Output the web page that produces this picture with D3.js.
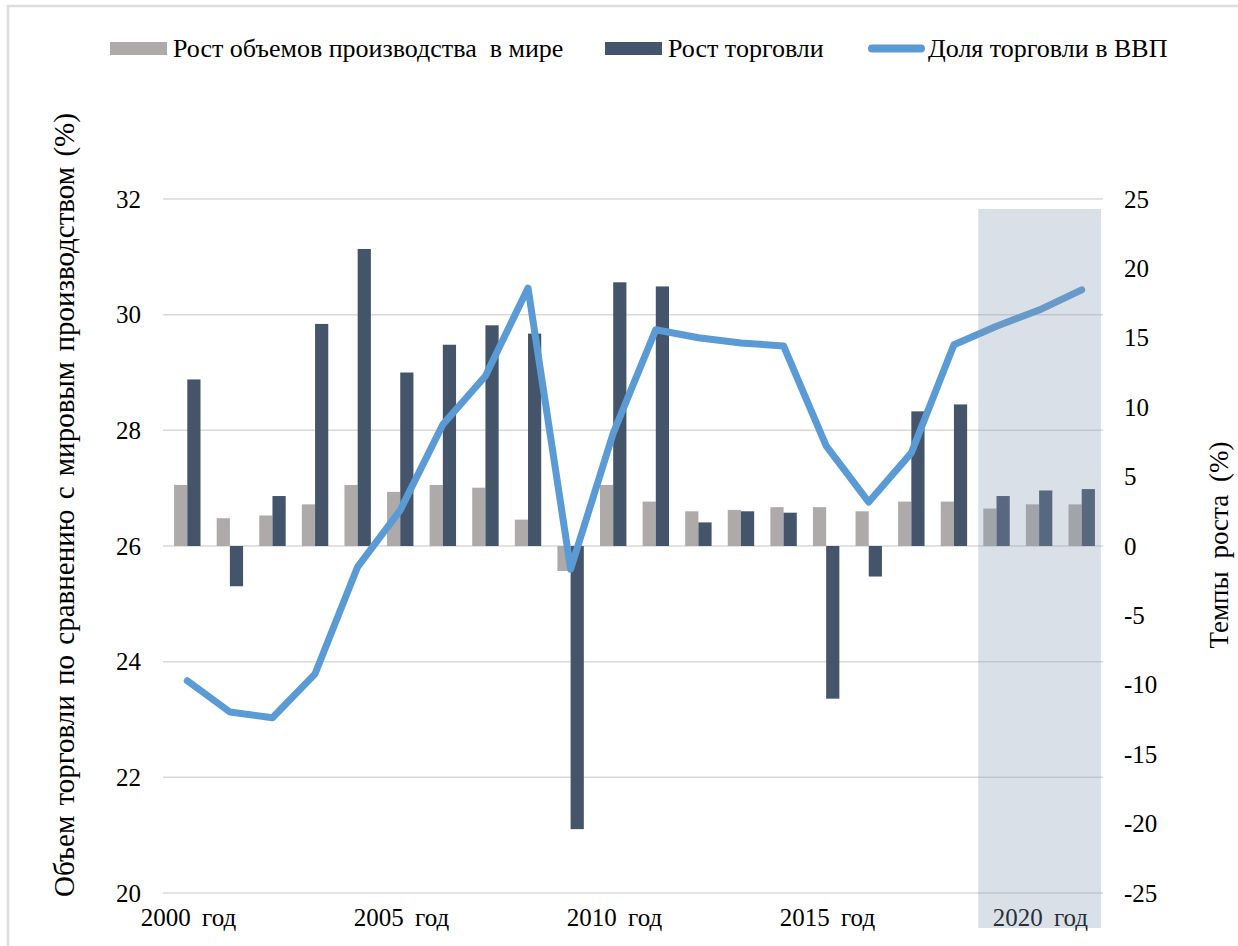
<!DOCTYPE html>
<html>
<head>
<meta charset="utf-8">
<script src="https://cdn.jsdelivr.net/npm/d3@7"></script>
<style>
  body { margin: 0; background: #fff; }
  svg text { font-family: "Liberation Serif", "Times New Roman", Tinos, "DejaVu Serif", "Noto Serif", serif; fill: #000; }
</style>
</head>
<body>
<svg id="chart" width="1238" height="946"></svg>
<script>
// годы
var years = ["2000","2001","2002","2003","2004","2005","2006","2007","2008","2009","2010",
             "2011","2012","2013","2014","2015","2016","2017","2018","2019","2020","2021"];
// рост объемов производства в мире, %
var prodGrowth = [4.4, 2.0, 2.2, 3.0, 4.4, 3.9, 4.4, 4.2, 1.9, -1.8, 4.4,
                  3.2, 2.5, 2.6, 2.8, 2.8, 2.5, 3.2, 3.2, 2.7, 3.0, 3.0];
// рост торговли, %
var tradeGrowth = [12.0, -2.9, 3.6, 16.0, 21.4, 12.5, 14.5, 15.9, 15.3, -20.4, 19.0,
                   18.7, 1.7, 2.5, 2.4, -11.0, -2.2, 9.7, 10.2, 3.6, 4.0, 4.1];
// доля торговли в ВВП, %
var tradeShare = [23.67, 23.13, 23.03, 23.79, 25.64, 26.62, 28.10, 28.94, 30.46, 25.60, 27.95,
                  29.74, 29.60, 29.51, 29.46, 27.73, 26.76, 27.61, 29.48, 29.80, 30.08, 30.43];
var leftTicks = [20, 22, 24, 26, 28, 30, 32];
var rightTicks = [-25, -20, -15, -10, -5, 0, 5, 10, 15, 20, 25];
var xLabels = ["2000", "2005", "2010", "2015", "2020"];
var shadeYears = ["2019", "2020", "2021"];

var serif = '"Liberation Serif", "Times New Roman", Tinos, "DejaVu Serif", "Noto Serif", serif';
var svg = d3.select("#chart");
var m = {l: 166, r: 1103, t: 199, b: 893};

// рамка
svg.append("path").attr("d", "M8,946 V6 H1238")
   .attr("fill", "none").attr("stroke", "#dedede").attr("stroke-width", 2.5);

var x = d3.scaleBand().domain(years).range([m.l, m.r]).paddingInner(0.38).paddingOuter(0.19);
var xs = d3.scaleBand().domain(["p", "t"]).range([0, x.bandwidth()]);
var yL = d3.scaleLinear().domain([20, 32]).range([m.b, m.t]);
var yR = d3.scaleLinear().domain([-25, 25]).range([m.b, m.t]);

// сетка
svg.append("g").selectAll("line").data(leftTicks).enter().append("line")
   .attr("x1", 163).attr("x2", 1103)
   .attr("y1", function(d) { return yL(d) }).attr("y2", function(d) { return yL(d) })
   .attr("stroke", "#d9d9d9").attr("stroke-width", 1.5);

// оси
var axL = svg.append("g").attr("transform", "translate(" + 141 + ",0)")
   .call(d3.axisLeft(yL).tickValues(leftTicks).tickSize(0).tickPadding(0));
var axR = svg.append("g").attr("transform", "translate(" + 1124 + ",0)")
   .call(d3.axisRight(yR).tickValues(rightTicks).tickSize(0).tickPadding(0)
   .tickFormat(function(d) { return String(d) }));
var axX = svg.append("g").attr("transform", "translate(0," + 918 + ")")
   .call(d3.axisBottom(x).tickValues(xLabels).tickSize(0).tickPadding(0)
   .tickFormat(function(d) { return d + " год" }));
[axL, axR, axX].forEach(function(a) {
    a.attr("font-family", null);
    a.select(".domain").remove();
    a.selectAll("text").style("font-size", "25px").style("font-family", serif);
});
axX.selectAll("text").attr("dy", "0.3em").attr("dx", "0.05em").style("word-spacing", "5px");

// столбцы
function bars(vals, key, color) {
    svg.append("g").selectAll("rect").data(vals).enter().append("rect")
       .attr("x", function(d, i) { return x(years[i]) + xs(key) })
       .attr("width", xs.bandwidth())
       .attr("y", function(d) { return yR(Math.max(0, d)) })
       .attr("height", function(d) { return Math.abs(yR(d) - yR(0)) })
       .attr("fill", color);
}
bars(prodGrowth, "p", "#aeaaaa");
bars(tradeGrowth, "t", "#44546a");

// линия
var line = d3.line()
   .x(function(d, i) { return x(years[i]) + x.bandwidth() / 2 })
   .y(function(d) { return yL(d) });
svg.append("path").datum(tradeShare).attr("d", line)
   .attr("fill", "none").attr("stroke", "#5b9bd5").attr("stroke-width", 7)
   .attr("stroke-linejoin", "round").attr("stroke-linecap", "round");

// прогнозная область
var step = x.step();
var sx0 = x(shadeYears[0]) - step * 0.19 + 3;
var sx1 = x(shadeYears[shadeYears.length - 1]) + x.bandwidth() + step * 0.19 - 2;
svg.append("rect").attr("x", sx0).attr("y", 209).attr("width", sx1 - sx0).attr("height", 719)
   .attr("fill", "#8497b0").attr("opacity", 0.3);

// подписи осей
svg.append("text").attr("transform", "translate(74,505) rotate(-90)")
   .attr("text-anchor", "middle").style("font-size", "29px").style("font-family", serif)
   .style("word-spacing", "3px")
   .text("Объем торговли по сравнению с мировым производством (%)");
svg.append("text").attr("transform", "translate(1228,545) rotate(-90)")
   .attr("text-anchor", "middle").style("font-size", "27px").style("font-family", serif)
   .style("word-spacing", "6px")
   .text("Темпы роста (%)");

// легенда
var legend = [
    {name: "Рост объемов производства  в мире", color: "#aeaaaa", type: "rect", x: 110, tx: 173},
    {name: "Рост торговли", color: "#44546a", type: "rect", x: 605, tx: 668},
    {name: "Доля торговли в ВВП", color: "#5b9bd5", type: "line", x: 868, tx: 928}
];
var lg = svg.append("g");
legend.forEach(function(d) {
    if (d.type == "rect") {
        lg.append("rect").attr("x", d.x).attr("y", 42).attr("width", 57).attr("height", 13).attr("fill", d.color);
    } else {
        lg.append("line").attr("x1", d.x + 4).attr("x2", d.x + 53).attr("y1", 48.5).attr("y2", 48.5)
          .attr("stroke", d.color).attr("stroke-width", 8).attr("stroke-linecap", "round");
    }
    lg.append("text").attr("x", d.tx).attr("y", 57).style("font-size", "26px")
      .style("font-family", serif).style("white-space", "pre").text(d.name);
});
</script>
</body>
</html>
